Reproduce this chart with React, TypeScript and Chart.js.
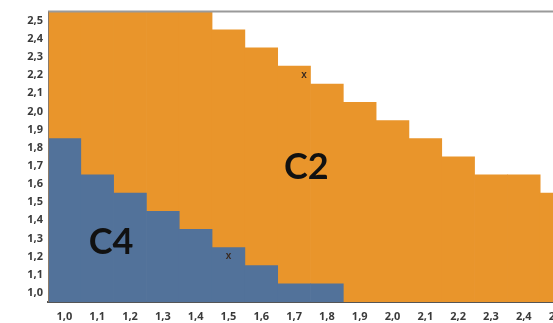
import React, { useEffect, useRef } from "react";
import { Chart, registerables } from "chart.js";

Chart.register(...registerables);

const xCategories = ["1,0","1,1","1,2","1,3","1,4","1,5","1,6","1,7","1,8","1,9","2,0","2,1","2,2","2,3","2,4","2,5"];
const yTickValues = [1.0,1.1,1.2,1.3,1.4,1.5,1.6,1.7,1.8,1.9,2.0,2.1,2.2,2.3,2.4,2.5];
// highest row (y value) belonging to C4 in each column; null = none
const c4TopRow = [1.8,1.6,1.5,1.4,1.3,1.2,1.1,1.0,1.0,null,null,null,null,null,null,null];
// highest row (y value) belonging to C2 in each column
const c2TopRow = [2.5,2.5,2.5,2.5,2.5,2.4,2.3,2.2,2.1,2.0,1.9,1.8,1.7,1.6,1.6,1.5];
const halfRow = 0.05;
const yMin = 0.95;
const yMax = 2.55;

const regionLabels = [
  { text: "C2", x: 7.37, y: 1.69 },
  { text: "C4", x: 1.42, y: 1.28 },
];
const crossMarks = [
  { x: 7.3, y: 2.2 },
  { x: 5.0, y: 1.2 },
];

const BLUE = "#52729A";
const ORANGE = "#E9952B";

export default function App() {
  const ref = useRef<HTMLCanvasElement | null>(null);

  useEffect(() => {
    if (!ref.current) return;
    const c4Bars = c4TopRow.map((t) => (t === null ? null : [yMin, t + halfRow]));
    const c2Bars = c2TopRow.map((t, i) => {
      const low = c4TopRow[i] === null ? yMin : (c4TopRow[i] as number) + halfRow;
      return [low, t + halfRow];
    });

    const annot = {
      id: "annot",
      afterDatasetsDraw(chart: any) {
        const { ctx, scales, chartArea } = chart;
        ctx.save();
        ctx.fillStyle = "#111";
        ctx.textAlign = "center";
        ctx.textBaseline = "middle";
        ctx.font = "bold 36px Lato, 'Open Sans', sans-serif";
        regionLabels.forEach((l) => {
          ctx.fillText(l.text, scales.x.getPixelForValue(l.x), scales.y.getPixelForValue(l.y));
        });
        ctx.font = "bold 10px 'Liberation Sans', sans-serif";
        ctx.fillStyle = "#3a2a20";
        crossMarks.forEach((m) => {
          ctx.fillText("x", scales.x.getPixelForValue(m.x), scales.y.getPixelForValue(m.y));
        });
        // top and left border
        ctx.strokeStyle = "#9a9a9a";
        ctx.lineWidth = 2;
        ctx.beginPath();
        ctx.moveTo(chartArea.left, chartArea.top);
        ctx.lineTo(chartArea.right + 10, chartArea.top);
        ctx.stroke();
        ctx.strokeStyle = "#8a7a6a";
        ctx.lineWidth = 1;
        ctx.beginPath();
        ctx.moveTo(chartArea.left + 0.5, chartArea.top);
        ctx.lineTo(chartArea.left + 0.5, chartArea.bottom);
        ctx.stroke();
        ctx.restore();
      },
    };

    const tickFont = { size: 11, family: "'Open Sans', sans-serif", weight: "bold" as const };

    const chart = new Chart(ref.current, {
      type: "bar",
      data: {
        labels: xCategories,
        datasets: [
          { label: "C4", data: c4Bars as any, backgroundColor: BLUE, borderWidth: 0, barPercentage: 1, categoryPercentage: 1 },
          { label: "C2", data: c2Bars as any, backgroundColor: ORANGE, borderWidth: 0, barPercentage: 1, categoryPercentage: 1 },
        ],
      },
      options: {
        animation: false,
        responsive: false,
        maintainAspectRatio: false,
        layout: { padding: { top: 10, left: 0, right: 0, bottom: 0 } },
        plugins: { legend: { display: false }, tooltip: { enabled: false } },
        scales: {
          x: {
            stacked: true,
            grid: { display: false, drawTicks: false },
            border: { display: true, color: "#555", width: 2 },
            ticks: {
              color: "#3a3a3a",
              font: tickFont,
              padding: 8,
              maxRotation: 0,
              autoSkip: false,
            },
            afterFit: (s: any) => { s.height = 21; },
          },
          y: {
            stacked: false,
            min: yMin,
            max: yMax,
            grid: { display: false, drawTicks: false },
            border: { display: false },
            afterBuildTicks: (s: any) => { s.ticks = yTickValues.map((v) => ({ value: v })); },
            ticks: {
              color: "#3a3a3a",
              font: tickFont,
              padding: 5,
              callback: (v: any) => Number(v).toFixed(1).replace(".", ","),
            },
            afterFit: (s: any) => { s.width = 48; },
          },
        },
      },
      plugins: [annot],
    });
    return () => chart.destroy();
  }, []);

  return (
    <div style={{ position: "absolute", left: 0, top: 0, width: 553, height: 323, overflow: "hidden", background: "#fff" }}>
      <canvas ref={ref} width={573} height={323} style={{ display: "block" }} />
    </div>
  );
}
